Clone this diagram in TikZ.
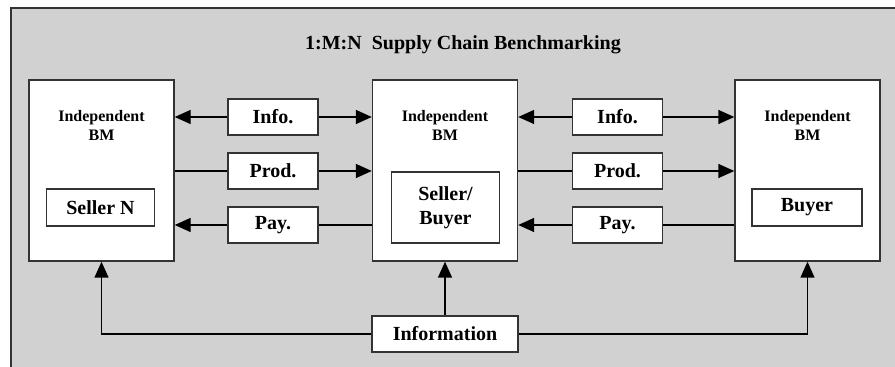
\documentclass[tikz,border=0pt]{standalone}
\usepackage{fontspec}
\setmainfont{Liberation Serif}
\usepackage{tikz}
\usetikzlibrary{arrows.meta}
\usetikzlibrary{positioning}

\begin{document}
\begin{tikzpicture}
    [
    x=0.5pt,y=-0.5pt,
    line width=0.7pt,
    bm/.style={rectangle,draw=black!80,fill=white,minimum width=72.5pt,minimum height=90.5pt,inner sep=0pt},
    flow/.style={rectangle,draw=black!80,fill=white,minimum width=45pt,minimum height=18pt,inner sep=0pt,font=\bfseries\fontsize{10}{12}\selectfont},
    party/.style={rectangle,draw=black!80,fill=white,minimum width=54pt,minimum height=18.5pt,inner sep=0pt,align=center,font=\bfseries\fontsize{10}{12}\selectfont},
    tag/.style={align=center,inner sep=0pt,font=\bfseries\fontsize{8}{9.5}\selectfont},
    tri/.style={-{Triangle[length=8pt,width=7pt]}},
    ]
    \useasboundingbox (0,0) rectangle (895,367);
    \fill [black!18] (11,8) rectangle (895,367);
    \draw [black!80] (11,367) -- (11,8) -- (895,8);

    \node (title) at (463,45) [font=\bfseries\fontsize{10}{12}\selectfont] {1:M:N\ \ Supply Chain Benchmarking};

    \node (left) at (101.5,170.5) [bm] {};
    \node (mid) at (445,170.5) [bm] {};
    \node (right) at (807.5,170.5) [bm] {};
    \node (tl) at (101.5,125) [tag] {Independent\\BM};
    \node (tm) at (445,125) [tag] {Independent\\BM};
    \node (tr) at (807.5,125) [tag] {Independent\\BM};

    \node (seller) at (100.5,207.5) [party] {Seller N};
    \node (sb) at (445.5,207.5) [party,minimum height=35.5pt] {Seller/\\Buyer};
    \node (buyer) at (807,207.5) [party,minimum width=55pt] {Buyer};

    \node (info1) at (273,117) [flow] {Info.};
    \node (prod1) at (273,171) [flow] {Prod.};
    \node (pay1) at (273,225) [flow] {Pay.};
    \node (info2) at (617.5,117) [flow] {Info.};
    \node (prod2) at (617.5,171) [flow] {Prod.};
    \node (pay2) at (617.5,225) [flow] {Pay.};

    \node (inf) at (445,334) [flow,minimum width=73pt] {Information};

    \draw [tri] (info1) to (info1 -| left.east);
    \draw [tri] (info1) to (info1 -| mid.west);
    \draw (prod1 -| left.east) to (prod1);
    \draw [tri] (prod1) to (prod1 -| mid.west);
    \draw (pay1 -| mid.west) to (pay1);
    \draw [tri] (pay1) to (pay1 -| left.east);

    \draw [tri] (info2) to (info2 -| mid.east);
    \draw [tri] (info2) to (info2 -| right.west);
    \draw (prod2 -| mid.east) to (prod2);
    \draw [tri] (prod2) to (prod2 -| right.west);
    \draw (pay2 -| right.west) to (pay2);
    \draw [tri] (pay2) to (pay2 -| mid.east);

    \draw [tri] (inf.west) -| (left.south);
    \draw [tri] (inf) to (mid);
    \draw [tri] (inf.east) -| (right.south);
  \end{tikzpicture}
\end{document}
